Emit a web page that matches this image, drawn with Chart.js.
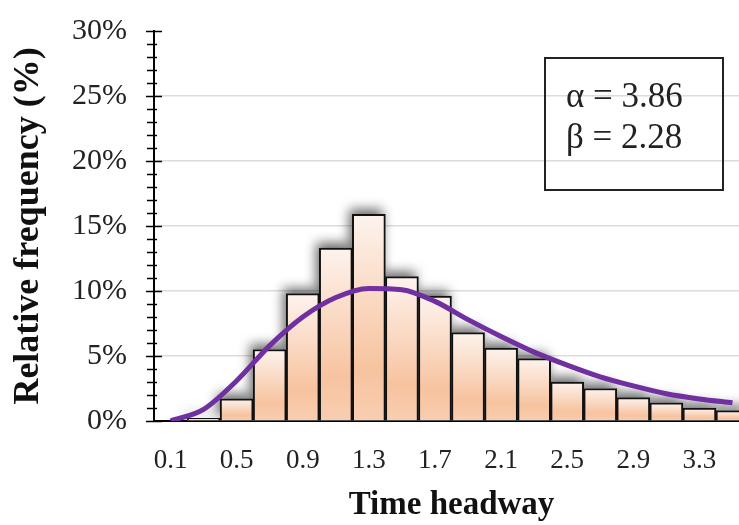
<!DOCTYPE html>
<html>
<head>
<meta charset="utf-8">
<script src="https://cdn.jsdelivr.net/npm/chart.js@4.4.0/dist/chart.umd.min.js"></script>
<style>
  html, body { margin: 0; padding: 0; background: #fff; overflow: hidden; }
  #grafico { display: block; }
</style>
</head>
<body>
<canvas id="grafico" width="750" height="525"></canvas>
<script>
// Classes de headway (centro de cada classe)
const classes = ['0.1', '0.3', '0.5', '0.7', '0.9', '1.1', '1.3', '1.5', '1.7',
                 '1.9', '2.1', '2.3', '2.5', '2.7', '2.9', '3.1', '3.3', '3.5'];

// Frequência relativa observada (%)
const frequencia = [0, 0.2, 1.7, 5.5, 9.8, 13.3, 15.9, 11.1, 9.6,
                    6.8, 5.6, 4.8, 3.0, 2.5, 1.8, 1.4, 1.0, 0.8];

// Curva ajustada (%)
const ajustada = [0, 0.9, 3.1, 5.8, 8.0, 9.5, 10.2, 10.1, 9.2,
                  7.8, 6.5, 5.3, 4.3, 3.4, 2.7, 2.1, 1.7, 1.4];

// Parâmetros mostrados na caixa
const alfa = 3.86;
const beta = 2.28;

const fonte = "'Liberation Serif', 'Times New Roman', serif";

// Degradê de cada barra (claro em cima, pêssego embaixo)
function corBarra(ctx) {
    const chart = ctx.chart;
    const y = chart.scales && chart.scales.y;
    if (!chart.chartArea || !y || ctx.parsed === undefined) return '#f9d3b8';
    const topo = y.getPixelForValue(ctx.parsed.y);
    const base = y.getPixelForValue(0);
    if (base - topo < 1) return '#f7c6a3';
    const g = chart.ctx.createLinearGradient(0, topo, 0, base);
    g.addColorStop(0, '#fdf3ed');
    g.addColorStop(0.75, '#f7c39f');
    g.addColorStop(1, '#f8ceb1');
    return g;
}

// Sombra das barras: retângulos desenhados por baixo, nas posições das próprias barras
const sombra = {
    id: 'sombra',
    beforeDatasetDraw(chart, args) {
        if (args.index !== 0) return;
        const c = chart.ctx;
        const area = chart.chartArea;
        c.save();
        c.beginPath();
        c.rect(area.left + 1, area.top - 20, area.right - area.left, area.bottom - area.top + 20);
        c.clip();
        c.shadowColor = 'rgba(0,0,0,0.6)';
        c.shadowBlur = 12;
        c.shadowOffsetX = -3;
        c.shadowOffsetY = -5;
        c.fillStyle = '#fff';
        args.meta.data.forEach(barra => {
            const p = barra.getProps(['x', 'y', 'base', 'width'], true);
            if (p.base - p.y < 1) return;
            c.fillRect(p.x - p.width / 2, p.y, p.width, p.base - p.y);
        });
        c.restore();
    }
};

// Marcas do eixo y (principais e secundárias)
const marcas = {
    id: 'marcas',
    afterDraw(chart) {
        const c = chart.ctx;
        const y = chart.scales.y;
        const x0 = chart.chartArea.left;
        c.save();
        c.strokeStyle = '#000';
        c.lineWidth = 1.5;
        for (let v = y.min; v <= y.max; v++) {
            const py = Math.round(y.getPixelForValue(v)) + 0.5;
            const maior = v % 5 === 0;
            c.beginPath();
            c.moveTo(x0 - (maior ? 8 : 7), py);
            c.lineTo(x0 + (maior ? 8 : 3), py);
            c.stroke();
        }
        c.restore();
    }
};

// Caixa com os parâmetros
const caixa = {
    id: 'caixa',
    afterDraw(chart) {
        const c = chart.ctx;
        c.save();
        c.strokeStyle = '#222';
        c.lineWidth = 2;
        c.strokeRect(545, 58, 178, 132);
        c.fillStyle = '#222';
        c.font = '35px ' + fonte;
        c.textBaseline = 'middle';
        c.textAlign = 'left';
        c.fillText('\u03b1 = ' + alfa.toFixed(2), 566, 98);
        c.fillText('\u03b2 = ' + beta.toFixed(2), 566, 139);
        c.restore();
    }
};

const grafico = new Chart(document.getElementById('grafico').getContext('2d'), {
    data: {
        labels: classes,
        datasets: [{
            type: 'bar',
            label: 'Frequência',
            data: frequencia,
            backgroundColor: corBarra,
            borderColor: '#111',
            borderWidth: 2,
            categoryPercentage: 1,
            barPercentage: 1,
            order: 2
        }, {
            type: 'line',
            label: 'Ajuste',
            data: ajustada,
            borderColor: '#7030a0',
            borderWidth: 5,
            pointRadius: 0,
            cubicInterpolationMode: 'monotone',
            fill: false,
            order: 1
        }]
    },
    options: {
        responsive: false,
        animation: false,
        layout: { padding: { top: 31, left: 8, right: 1, bottom: 0 } },
        scales: {
            x: {
                afterFit: s => { s.height = 104; },
                grid: { display: false, drawTicks: false },
                border: { color: '#000', width: 2 },
                ticks: {
                    autoSkip: false,
                    maxRotation: 0,
                    padding: 24,
                    color: '#222',
                    font: { family: fonte, size: 27 },
                    callback: (v, i) => (i % 2 === 0 ? classes[i] : null)
                },
                title: {
                    display: true,
                    text: 'Time headway',
                    color: '#111',
                    font: { family: fonte, size: 33, weight: 'bold', lineHeight: 1 },
                    padding: { top: 0, bottom: 3.5 }
                }
            },
            y: {
                min: 0,
                max: 30,
                afterFit: s => { s.width = 146; s.paddingTop = 0; s.paddingBottom = 0; },
                grid: {
                    drawTicks: false,
                    lineWidth: 1.5,
                    color: ctx => (ctx.tick.value > 0 && ctx.tick.value < 30 ? '#dcdcdc' : 'rgba(0,0,0,0)')
                },
                border: { color: '#000', width: 2 },
                ticks: {
                    stepSize: 5,
                    padding: 27,
                    color: '#222',
                    font: { family: fonte, size: 30 },
                    callback: v => v + '%'
                },
                title: {
                    display: true,
                    text: 'Relative frequency (%)',
                    color: '#111',
                    font: { family: fonte, size: 36, weight: 'bold', lineHeight: 1 },
                    padding: { top: 3, bottom: 0 }
                }
            }
        },
        plugins: {
            legend: { display: false },
            tooltip: { enabled: false }
        }
    },
    plugins: [sombra, marcas, caixa]
});
</script>
</body>
</html>
